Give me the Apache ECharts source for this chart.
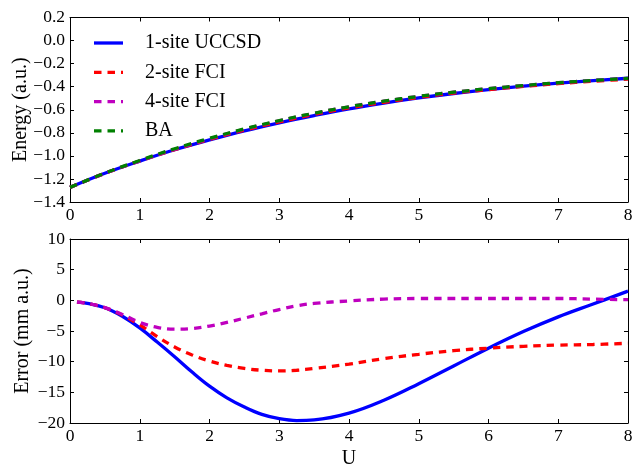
<!DOCTYPE html>
<html>
<head>
<meta charset="utf-8">
<script src="https://cdn.jsdelivr.net/npm/echarts@6/dist/echarts.min.js"></script>
<style>html,body{margin:0;padding:0;background:#fff}#c{width:632px;height:464px}</style>
</head>
<body>
<div id="c"></div>
<script>
// Energy panel data
var uEnergy = [0,0.5,1,1.5,2,2.5,3,3.5,4,4.5,5,5.5,6,6.5,7,7.5,8];
var eUCCSD = [-1.273,-1.151,-1.045,-0.947,-0.862,-0.783,-0.713,-0.650,-0.592,-0.542,-0.498,-0.459,-0.425,-0.395,-0.369,-0.347,-0.327];
var eFCI2  = [-1.273,-1.151,-1.044,-0.946,-0.858,-0.777,-0.706,-0.641,-0.584,-0.536,-0.493,-0.456,-0.425,-0.398,-0.373,-0.353,-0.335];
var eFCI4  = [-1.273,-1.151,-1.044,-0.943,-0.852,-0.769,-0.696,-0.631,-0.574,-0.526,-0.484,-0.448,-0.417,-0.390,-0.366,-0.346,-0.328];
var eBA    = [-1.273,-1.150,-1.040,-0.938,-0.848,-0.766,-0.694,-0.630,-0.574,-0.526,-0.484,-0.448,-0.417,-0.390,-0.366,-0.346,-0.328];
// Error panel data (mm a.u.)
var uError = [0.1,0.25,0.5,0.75,1,1.25,1.5,1.75,2,2.25,2.5,2.75,3,3.25,3.5,4,4.5,5,5.5,6,6.5,7,7.5,8];
var errUCCSD = [-0.3,-0.5,-1.2,-2.6,-4.5,-6.8,-9.2,-11.7,-14.0,-15.9,-17.4,-18.6,-19.3,-19.6,-19.5,-18.4,-16.3,-13.6,-10.7,-7.8,-5.1,-2.7,-0.6,1.5];
var errFCI2  = [-0.3,-0.5,-1.2,-2.4,-4.0,-5.9,-7.6,-8.9,-9.9,-10.6,-11.1,-11.4,-11.5,-11.4,-11.1,-10.4,-9.5,-8.8,-8.2,-7.8,-7.5,-7.3,-7.2,-7.0];
var errFCI4  = [-0.3,-0.5,-1.2,-2.3,-3.6,-4.4,-4.7,-4.6,-4.2,-3.6,-2.9,-2.2,-1.5,-0.9,-0.5,-0.1,0.2,0.3,0.3,0.3,0.3,0.3,0.2,0.1];
var names = ['1-site UCCSD','2-site FCI','4-site FCI','BA'];
var colors = ['#0000ff','#ff0000','#bf00bf','#008000'];

function pairs(xs, ys){ return xs.map(function(x,i){ return [x, ys[i]]; }); }
function minus(s){ return String(s).replace('-', '\u2212'); }

var font = 'Liberation Serif';
var axisLineS = {show:true, onZero:false, lineStyle:{color:'#000', width:1}};
var tickS = {show:true, inside:true, length:4, lineStyle:{color:'#000'}};
function xAx(grid, pos, labels, extra){
  var a = {type:'value', gridIndex:grid, position:pos, min:0, max:8, interval:1,
    axisLine:axisLineS, axisTick:tickS, splitLine:{show:false},
    axisLabel:{show:labels, color:'#000', fontFamily:font, fontSize:17.5, margin:4}};
  for (var k in extra) a[k]=extra[k];
  return a;
}
function yAx(grid, pos, labels, min, max, interval, fmt, extra){
  var a = {type:'value', gridIndex:grid, position:pos, min:min, max:max, interval:interval,
    axisLine:axisLineS, axisTick:tickS, splitLine:{show:false},
    axisLabel:{show:labels, color:'#000', fontFamily:font, fontSize:17.5, margin:5, formatter:fmt}};
  for (var k in extra) a[k]=extra[k];
  return a;
}
var fmtE = function(v){ return minus(v.toFixed(1)); };
var fmtErr = function(v){ return minus(Math.round(v)); };
var nameS = {color:'#000', fontFamily:font, fontSize:20};

var lw = 3.3;
function ser(name, x, y, ci, xi, yi, dashed, z){
  return {name:name, type:'line', xAxisIndex:xi, yAxisIndex:yi, data:pairs(x,y),
    smooth:0.4, showSymbol:false, symbol:'none', z:z, animation:false,
    lineStyle:{color:colors[ci], width:lw, type: dashed ? [7.5,6] : 'solid'},
    itemStyle:{color:colors[ci]}};
}
var solidIcon = 'path://M0,0h29v3.3h-29z';
var dashIcon = 'path://M0,0h7.5v3.3h-7.5zM13.5,0h7.5v3.3h-7.5zM27,0h2v3.3h-2z';

var option = {
  animation:false,
  grid:[{left:70, right:4, top:17.5, height:184.5, outerBoundsMode:'none', containLabel:false},
        {left:70, right:4, top:239, height:184, outerBoundsMode:'none', containLabel:false}],
  legend:{orient:'vertical', left:89, top:28, itemWidth:29, itemHeight:3.3, itemGap:9.3,
    data:[{name:names[0], icon:solidIcon},{name:names[1], icon:dashIcon},
          {name:names[2], icon:dashIcon},{name:names[3], icon:dashIcon}],
    textStyle:{color:'#000', fontFamily:font, fontSize:20, padding:[0,0,0,17]}},
  xAxis:[
    xAx(0,'bottom',true,{}),
    xAx(0,'top',false,{}),
    xAx(1,'bottom',true,{name:'U', nameLocation:'middle', nameGap:26, nameMoveOverlap:false, nameTextStyle:nameS}),
    xAx(1,'top',false,{})
  ],
  yAxis:[
    yAx(0,'left',true,-1.4,0.2,0.2,fmtE,{name:'Energy (a.u.)', nameLocation:'middle', nameGap:39, nameMoveOverlap:false, nameTextStyle:nameS}),
    yAx(0,'right',false,-1.4,0.2,0.2,fmtE,{}),
    yAx(1,'left',true,-20,10,5,fmtErr,{name:'Error (mm a.u.)', nameLocation:'middle', nameGap:37, nameMoveOverlap:false, nameTextStyle:nameS}),
    yAx(1,'right',false,-20,10,5,fmtErr,{})
  ],
  series:[
    ser(names[0], uEnergy, eUCCSD, 0, 0, 0, false, 2),
    ser(names[1], uEnergy, eFCI2, 1, 0, 0, true, 3),
    ser(names[2], uEnergy, eFCI4, 2, 0, 0, true, 4),
    ser(names[3], uEnergy, eBA, 3, 0, 0, true, 5),
    ser(names[0], uError, errUCCSD, 0, 2, 2, false, 2),
    ser(names[1], uError, errFCI2, 1, 2, 2, true, 3),
    ser(names[2], uError, errFCI4, 2, 2, 2, true, 4)
  ]
};
var chart = echarts.init(document.getElementById('c'), null, {renderer:'canvas'});
chart.setOption(option);
</script>
</body>
</html>
